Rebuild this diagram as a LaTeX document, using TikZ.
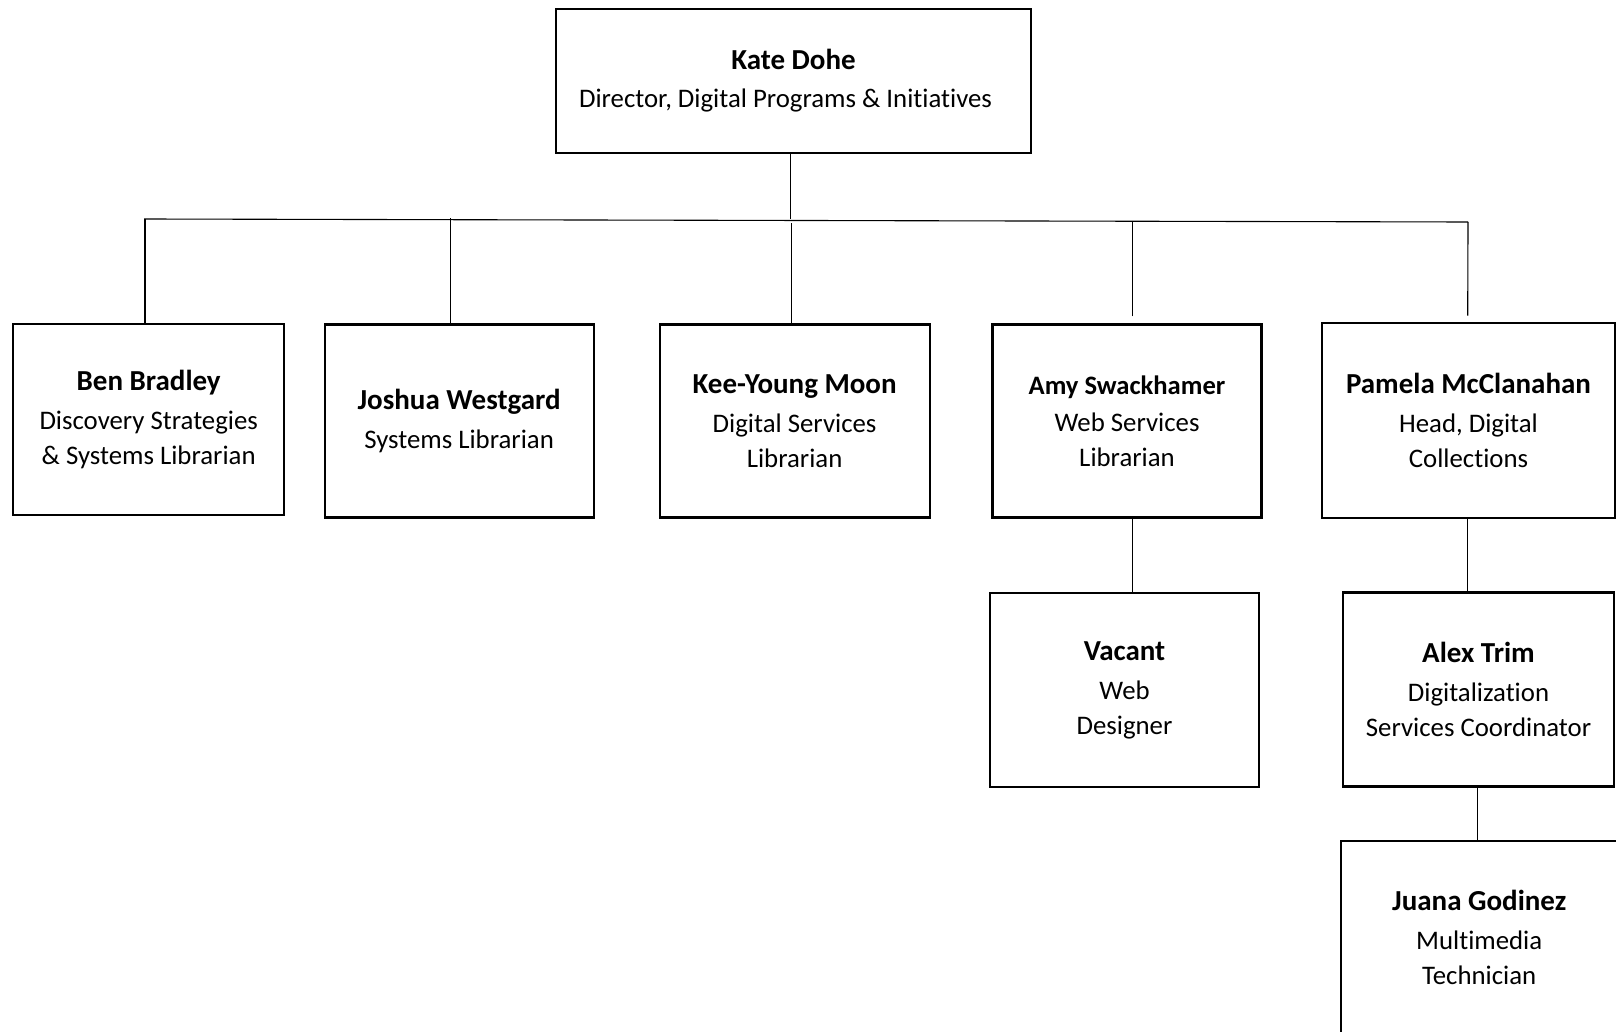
\documentclass[tikz,border=0pt]{standalone}
\usepackage{fontspec}
\setmainfont{Carlito}[Ligatures=NoCommon]
\begin{document}
\begin{tikzpicture}[x=1pt,y=-1pt,
  box/.style={draw=black,line width=2.2pt,fill=white,inner sep=0pt,align=center,
    font=\fontsize{26.8}{35}\selectfont},
  link/.style={draw=black,line width=1.1pt}]
\newcommand{\nm}[1]{{\fontsize{29}{35}\selectfont\bfseries #1}\\[4pt]}
\useasboundingbox (0,0) rectangle (1616,1032);
\fill[white] (0,0) rectangle (1616,1032);

\node[box,minimum width=475pt,minimum height=144pt] (kate) at (793.5,81)
  {{\fontsize{29}{35}\selectfont\bfseries Kate Dohe}\\[3pt]Director, Digital Programs \& Initiatives\hspace*{16pt}};
\node[box,minimum width=271pt,minimum height=191pt] (ben) at (148.7,419.5)
  {\nm{Ben Bradley}Discovery Strategies\\\& Systems Librarian};
\node[box,minimum width=269pt,minimum height=193pt] (josh) at (459.1,421)
  {\nm{Joshua Westgard}Systems Librarian};
\node[box,minimum width=270pt,minimum height=193pt] (kee) at (794.6,421)
  {\nm{Kee-Young Moon}Digital Services\\Librarian};
\node[box,minimum width=269pt,minimum height=193pt] (amy) at (1127,421)
  {{\fontsize{26.6}{35}\selectfont\bfseries Amy Swackhamer}\\[2pt]Web Services\\Librarian};
\node[box,minimum width=293pt,minimum height=195.5pt] (pam) at (1468.5,420.5)
  {\nm{Pamela McClanahan}Head, Digital\\Collections};
\node[box,minimum width=269pt,minimum height=193.4pt] (vac) at (1124.5,690)
  {\nm{Vacant}Web\\Designer};
\node[box,minimum width=271pt,minimum height=194pt] (alex) at (1478.5,689.5)
  {\nm{Alex Trim}Digitalization\\Services Coordinator};
\node[box,minimum width=277pt,minimum height=194pt] (juana) at (1479.2,937.7)
  {\nm{Juana Godinez}Multimedia\\Technician};

% bus
\coordinate (busL) at (144,219);
\coordinate (busR) at (1468,222);
\draw[link] (busL) -- (busR);
\draw[link] ([xshift=-2.8pt]kate.south) -- ([xshift=-2.8pt]kate.south |- busL);
\draw[link] ([xshift=-3.7pt]ben.north) -- ([xshift=-3.7pt]ben.north |- busL);
\draw[link] ([xshift=-8.7pt]josh.north) -- ([xshift=-8.7pt,yshift=1pt]josh.north |- busL);
\draw[link] ([xshift=-3.1pt]kee.north) -- ([xshift=-3.1pt,yshift=-4pt]kee.north |- busL);
\draw[link] ([xshift=5.6pt,yshift=7pt]amy.north) -- ([xshift=5.6pt,yshift=-2pt]amy.north |- busL);
\draw[link] ([xshift=-0.8pt,yshift=6pt]pam.north) -- (busR);
\draw[link] ([xshift=5.3pt]amy.south) -- ([xshift=5.3pt]amy.south |- vac.north);
\draw[link] ([xshift=-0.8pt]pam.south) -- ([xshift=-0.8pt]pam.south |- alex.north);
\draw[link] ([xshift=-0.8pt]alex.south) -- ([xshift=-0.8pt]alex.south |- juana.north);
\end{tikzpicture}
\end{document}
